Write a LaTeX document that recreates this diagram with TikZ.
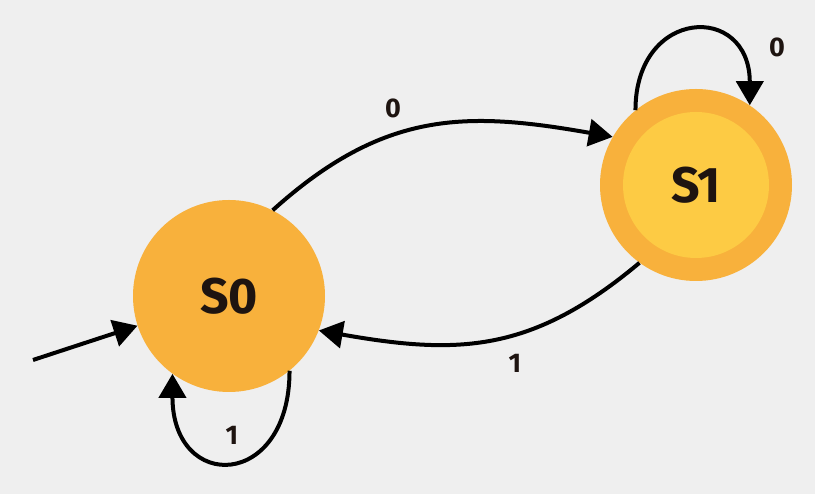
\documentclass[tikz,border=0pt]{standalone}
\usepackage{fontspec}
\setmainfont{Fira Sans}
\usepackage{tikz}
\usetikzlibrary{arrows.meta}

\definecolor{bggray}{HTML}{EFEFEF}
\definecolor{stateorange}{HTML}{F8B13C}
\definecolor{coreyellow}{HTML}{FDCB44}
\definecolor{inkdark}{HTML}{1E1410}

\begin{document}
\begin{tikzpicture}[
    x=1pt, y=1pt,
    state/.style={circle, fill=stateorange, minimum size=192pt, inner sep=0pt, text=inkdark, font=\fontsize{50}{50}\selectfont\bfseries},
    core/.style={circle, fill=coreyellow, minimum size=146pt, inner sep=0pt, text=inkdark, font=\fontsize{50}{50}\selectfont\bfseries},
    label/.style={text=inkdark, font=\fontsize{27}{27}\selectfont\bfseries},
    arrow/.style={-{Triangle[length=24pt, width=27pt]}, line width=4pt, draw=black}
]

\useasboundingbox[fill=bggray] (0,0) rectangle (815,494);

% States
\node[state] (s0) at (229,198) {S0};
\node[state] (s1) at (696,309) {};
\node[core] (s1core) at (s1) {S1};

% Start arrow
\coordinate (init) at (33,134);
\draw[arrow] (init) -- (s0.198);

% Transitions
\draw[arrow] (s0.63) to[out=42, in=170, looseness=1.1] (s1.150);
\draw[arrow] (s1.234) to[out=220, in=350, looseness=1.1] (s0.339);
\draw[arrow] (s1.129) to[out=90, in=90, looseness=2.3] (s1.56);
\draw[arrow] (s0.309) to[out=-90, in=-90, looseness=2.6] (s0.234);

% Labels
\node[label] (l00) at (393,386) {0};
\node[label] (l01) at (515,131) {1};
\node[label] (l11) at (777,447) {0};
\node[label] (l10) at (232,59) {1};

\end{tikzpicture}
\end{document}
